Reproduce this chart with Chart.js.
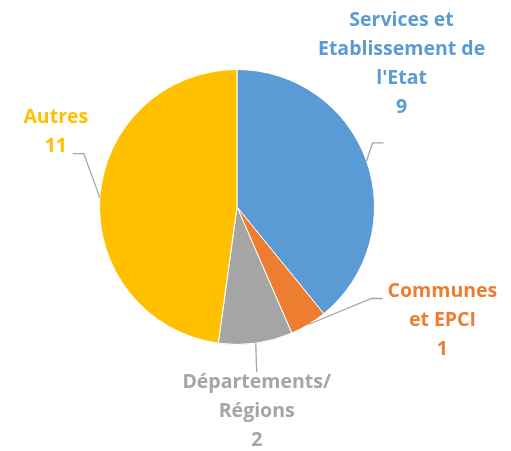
<!DOCTYPE html>
<html>
<head>
<meta charset="utf-8">
<script src="https://cdn.jsdelivr.net/npm/chart.js@4/dist/chart.umd.min.js"></script>
<style>
  html, body { margin: 0; padding: 0; background: #fff; }
  #wrap { width: 511px; height: 451px; position: relative; }
</style>
</head>
<body>
<div id="wrap"><canvas id="chart" width="511" height="451"></canvas></div>
<script>
// Data
const categories = ['Services et Etablissement de l\'Etat', 'Communes et EPCI', 'Départements/ Régions', 'Autres'];
const labelLines = [
  ['Services et', 'Etablissement de', 'l\'Etat'],
  ['Communes', 'et EPCI'],
  ['Départements/', 'Régions'],
  ['Autres']
];
const values = [9, 1, 2, 11];
const colors = ['#5B9BD5', '#ED7D31', '#A5A5A5', '#FFC000'];

// label placement relative to the slice edge point: elbow, line end, text center, first line y
const labelPlacement = [
  { elbow: [6, -18], end: [17, -18], tx: 35, ty: -141 },
  { elbow: [63, -26], end: [74, -26], tx: 134, ty: -33 },
  { elbow: [1, 29], end: [1, 29], tx: 1, ty: 39 },
  { elbow: [-16, -44], end: [-27, -44], tx: -44, ty: -80 }
];

const leaderLabels = {
  id: 'leaderLabels',
  afterDatasetsDraw(chart) {
    const ctx = chart.ctx;
    const meta = chart.getDatasetMeta(0);
    ctx.save();
    meta.data.forEach((arc, i) => {
      const mid = (arc.startAngle + arc.endAngle) / 2;
      const ax = arc.x + Math.cos(mid) * arc.outerRadius;
      const ay = arc.y + Math.sin(mid) * arc.outerRadius;
      const p = labelPlacement[i];
      ctx.strokeStyle = '#A6A6A6';
      ctx.lineWidth = 1.3;
      ctx.beginPath();
      ctx.moveTo(ax, ay);
      ctx.lineTo(ax + p.elbow[0], ay + p.elbow[1]);
      ctx.lineTo(ax + p.end[0], ay + p.end[1]);
      ctx.stroke();

      ctx.fillStyle = colors[i];
      ctx.font = 'bold 19.5px "Open Sans", sans-serif';
      ctx.textAlign = 'center';
      ctx.textBaseline = 'middle';
      const lines = labelLines[i].concat([String(values[i])]);
      lines.forEach((t, k) => {
        ctx.fillText(t, ax + p.tx, ay + p.ty + k * 29);
      });
    });
    ctx.restore();
  }
};

new Chart(document.getElementById('chart'), {
  type: 'pie',
  data: {
    labels: categories,
    datasets: [{
      data: values,
      backgroundColor: colors,
      borderColor: '#ffffff',
      borderWidth: 1
    }]
  },
  options: {
    responsive: false,
    animation: false,
    layout: { padding: { top: 69, bottom: 106, left: 50, right: 87 } },
    plugins: {
      legend: { display: false },
      tooltip: { enabled: false }
    }
  },
  plugins: [leaderLabels]
});
</script>
</body>
</html>
